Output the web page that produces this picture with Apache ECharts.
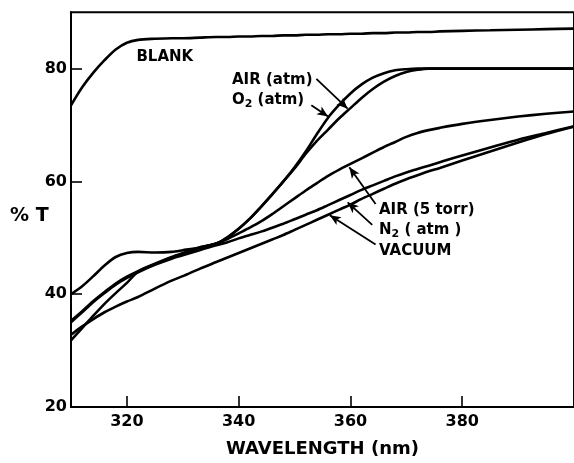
<!DOCTYPE html>
<html>
<head>
<meta charset="utf-8">
<script src="https://cdn.jsdelivr.net/npm/echarts@6/dist/echarts.min.js"></script>
<style>
html,body{margin:0;padding:0;background:#fff;}
#chart{width:574px;height:463px;}
</style>
</head>
<body>
<div id="chart"></div>
<script>
// ---- data ----
const wavelength = [310,312,314,316,318,320,322,325,328,330,333,336,338,340,342,344,346,348,350,352,354,356,358,360,362,364,366,368,370,372,374,376,380,385,390,395,400];
const blank    = [73.5,76.7,79.3,81.5,83.4,84.6,85.1,85.3,85.4,85.4,85.5,85.6,85.6,85.7,85.7,85.8,85.8,85.9,85.9,86.0,86.0,86.1,86.1,86.2,86.2,86.3,86.3,86.4,86.4,86.5,86.5,86.6,86.7,86.8,86.9,87.0,87.1];
const o2Atm    = [40.0,41.4,43.2,45.1,46.6,47.3,47.5,47.4,47.5,47.8,48.3,49.0,50.1,51.6,53.4,55.5,57.7,60.0,62.5,65.3,68.4,71.3,73.6,75.6,77.2,78.4,79.2,79.7,79.9,80.0,80.0,80.0,80.0,80.0,80.0,80.0,80.0];
const airAtm   = [35.3,37.0,38.8,40.4,41.9,43.1,44.1,45.4,46.6,47.3,48.3,49.0,50.1,51.6,53.4,55.5,57.7,60.0,62.3,64.9,67.2,69.2,71.2,73.0,74.8,76.4,77.7,78.7,79.4,79.8,80.0,80.0,80.0,80.0,80.0,80.0,80.0];
const air5torr = [31.8,34.0,36.2,38.3,40.2,42.0,44.0,45.3,46.5,47.2,48.2,49.0,49.8,50.8,51.8,52.9,54.2,55.6,57.0,58.4,59.7,61.0,62.1,63.1,64.1,65.1,66.1,67.0,67.9,68.6,69.1,69.5,70.2,70.9,71.5,72.0,72.4];
const n2Atm    = [35.0,36.8,38.6,40.2,41.7,42.9,43.9,45.2,46.3,46.9,47.8,48.7,49.2,49.9,50.5,51.1,51.8,52.5,53.3,54.1,54.9,55.8,56.7,57.6,58.5,59.3,60.1,60.9,61.6,62.2,62.8,63.4,64.6,66.0,67.4,68.6,69.8];
const vacuum   = [32.8,34.3,35.6,36.8,37.8,38.7,39.5,41.0,42.4,43.2,44.5,45.7,46.5,47.3,48.1,48.9,49.7,50.5,51.4,52.3,53.2,54.1,55.0,55.9,56.9,57.8,58.7,59.6,60.4,61.1,61.8,62.4,63.7,65.3,66.9,68.4,69.7];

const xTicks = [320,340,360,380];
const yTicks = [20,40,60,80];
const yTickMarks = [40,60,80];

// annotation labels (text, anchor in data units)
const labelTexts = ['BLANK','AIR (atm)','O{s|2} (atm)','AIR (5 torr)','N{s|2} ( atm )','VACUUM'];
const labelX = [321.7,338.8,338.8,365.1,365.1,365.1];
const labelY = [82.1,77.9,74.5,54.9,51.4,47.6];

// annotation arrows (tail -> tip, data units)
const arrowFromX = [353.9,353.0,364.5,363.9,364.5];
const arrowFromY = [78.2,73.5,56.0,52.3,48.8];
const arrowToX   = [359.5,356.0,359.8,359.5,356.3];
const arrowToY   = [72.9,71.5,62.5,56.3,54.0];

// ---- chart ----
const FONT = 'DejaVu Sans';
const pair = (ys) => wavelength.map((x, i) => [x, ys[i]]);
const curve = (name, ys) => ({
  name, type: 'line', data: pair(ys), showSymbol: false, smooth: 0.3,
  lineStyle: { color: '#000', width: 2.6, opacity: 1 }, silent: true, animation: false
});

const chart = echarts.init(document.getElementById('chart'), null, { renderer: 'canvas' });
chart.setOption({
  backgroundColor: '#fff',
  animation: false,
  grid: { left: 71, top: 12.25, width: 507.2, height: 400.75, show: true, borderColor: '#000', borderWidth: 2, backgroundColor: 'transparent' },
  xAxis: {
    type: 'value', min: 310, max: 400,
    axisLine: { onZero: false, lineStyle: { color: '#000', width: 2 } },
    axisTick: { inside: true, length: 11, customValues: xTicks, lineStyle: { color: '#000', width: 1.6 } },
    axisLabel: { customValues: xTicks, color: '#000', fontFamily: FONT, fontSize: 16, fontWeight: 'bold', margin: 7 },
    splitLine: { show: false },
    name: 'WAVELENGTH (nm)', nameLocation: 'middle', nameGap: 33,
    nameTextStyle: { color: '#000', fontFamily: FONT, fontSize: 18, fontWeight: 'bold' }
  },
  yAxis: {
    type: 'value', min: 20, max: 90,
    axisLine: { onZero: false, lineStyle: { color: '#000', width: 2 } },
    axisTick: { inside: true, length: 11, customValues: yTickMarks, lineStyle: { color: '#000', width: 1.6 } },
    axisLabel: { customValues: yTicks, color: '#000', fontFamily: FONT, fontSize: 16, fontWeight: 'bold', margin: 4 },
    splitLine: { show: false }
  },
  graphic: [{
    type: 'text', left: 10, top: 207,
    style: { text: '% T', fill: '#000', font: 'bold 19px "DejaVu Sans"' }
  }],
  series: [
    curve('BLANK', blank),
    curve('O2 (atm)', o2Atm),
    curve('AIR (atm)', airAtm),
    curve('AIR (5 torr)', air5torr),
    curve('N2 (atm)', n2Atm),
    curve('VACUUM', vacuum),
    {
      name: 'labels', type: 'scatter', symbolSize: 0, silent: true, animation: false,
      itemStyle: { opacity: 1, color: '#000' },
      data: labelTexts.map((t, i) => ({ value: [labelX[i], labelY[i]], name: t })),
      label: {
        show: true, position: 'right', distance: 0, formatter: (p) => p.name, opacity: 1,
        color: '#000', fontFamily: FONT, fontSize: 15, fontWeight: 'bold',
        rich: { s: { fontFamily: FONT, fontSize: 11, fontWeight: 'bold', color: '#000', padding: [9, 0, 0, 0] } }
      },
      markLine: {
        silent: true, animation: false,
        symbol: ['none', 'arrow'], symbolSize: [7, 11],
        label: { show: false },
        itemStyle: { color: '#000', opacity: 1 },
        lineStyle: { color: '#000', width: 1.8, type: 'solid', opacity: 1 },
        data: arrowFromX.map((x, i) => [
          { coord: [x, arrowFromY[i]] },
          { coord: [arrowToX[i], arrowToY[i]] }
        ])
      }
    }
  ]
});
</script>
</body>
</html>
